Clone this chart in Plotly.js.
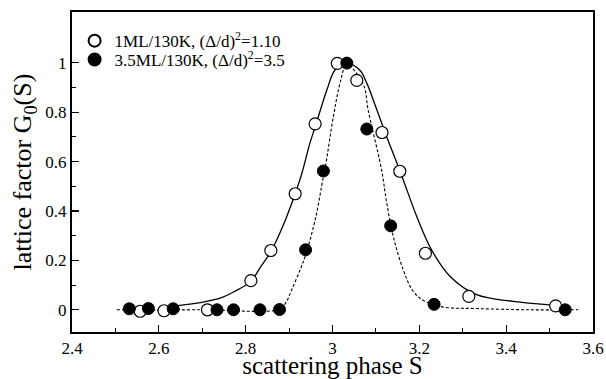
<!DOCTYPE html>
<html>
<head>
<meta charset="utf-8">
<script src="https://cdn.plot.ly/plotly-3.0.1.min.js"></script>
<style>html,body{margin:0;padding:0;background:#fff;}#chart{width:606px;height:379px;}</style>
</head>
<body>
<div id="chart"></div>
<script>
// Open circles: 1ML/130K
const openS = [2.557, 2.612, 2.712, 2.812, 2.858, 2.914, 2.960, 3.011, 3.056, 3.114, 3.155, 3.214, 3.314, 3.514];
const openG = [-0.006, -0.004, 0.0, 0.118, 0.240, 0.470, 0.753, 0.998, 0.929, 0.718, 0.561, 0.229, 0.054, 0.016];
// Filled circles: 3.5ML/130K
const fillS = [2.532, 2.576, 2.633, 2.734, 2.772, 2.833, 2.878, 2.938, 2.979, 3.033, 3.079, 3.134, 3.234, 3.536];
const fillG = [0.004, 0.005, 0.004, 0.0, 0.0, 0.0, 0.001, 0.243, 0.562, 0.999, 0.732, 0.340, 0.022, 0.0];
// Solid fit curve
const fitOpenS = [2.633, 2.68, 2.71, 2.741, 2.772, 2.812, 2.833, 2.858, 2.887, 2.914, 2.929, 2.948, 2.96, 2.987, 3.006, 3.031, 3.063, 3.079, 3.10, 3.125, 3.145, 3.163, 3.194, 3.228, 3.271, 3.332, 3.416, 3.50];
const fitOpenG = [0.015, 0.025, 0.034, 0.047, 0.072, 0.115, 0.17, 0.235, 0.344, 0.47, 0.55, 0.675, 0.74, 0.89, 0.972, 1.0, 0.97, 0.918, 0.82, 0.70, 0.61, 0.526, 0.378, 0.243, 0.135, 0.061, 0.034, 0.02];
// Dashed fit curve
const fitFillS = [2.503, 2.70, 2.879, 2.893, 2.906, 2.925, 2.937, 2.96, 2.979, 2.985, 3.002, 3.019, 3.033, 3.05, 3.073, 3.082, 3.113, 3.125, 3.14, 3.163, 3.186, 3.213, 3.255, 3.332, 3.45, 3.566];
const fitFillG = [0.0, 0.0, 0.003, 0.03, 0.081, 0.16, 0.216, 0.364, 0.54, 0.594, 0.783, 0.93, 1.0, 0.97, 0.904, 0.81, 0.567, 0.432, 0.297, 0.162, 0.074, 0.034, 0.011, 0.005, 0.0, 0.0];
// Labels
const legendOpen = "1ML/130K, (Δ/d)<sup>2</sup>=1.10";
const legendFill = "3.5ML/130K, (Δ/d)<sup>2</sup>=3.5";
const xTitle = "scattering phase S";
const yTitle = "lattice factor G<sub>0</sub>(S)";
const xTicks = [2.4, 2.6, 2.8, 3.0, 3.2, 3.4, 3.6];
const xTickText = ["2.4", "2.6", "2.8", "3", "3.2", "3.4", "3.6"];
const xMinor = [2.5, 2.7, 2.9, 3.1, 3.3, 3.5];
const yTicks = [0, 0.2, 0.4, 0.6, 0.8, 1.0];
const yTickText = ["0", "0.2", "0.4", "0.6", "0.8", "1"];
const yMinor = [0.1, 0.3, 0.5, 0.7, 0.9];

const FONT = 'Liberation Serif';
const X_RANGE = [2.4, 3.6];
const Y_RANGE = [-0.09, 1.206];

const traces = [
  {x: fitOpenS, y: fitOpenG, mode: 'lines', line: {color: '#000', width: 1.3, shape: 'spline'}, showlegend: false, hoverinfo: 'skip'},
  {x: fitFillS, y: fitFillG, mode: 'lines', line: {color: '#000', width: 1.1, dash: '3px,2px', shape: 'spline'}, showlegend: false, hoverinfo: 'skip'},
  {x: openS, y: openG, mode: 'markers', name: legendOpen, legend: 'legend',
   marker: {symbol: 'circle', size: 12, color: '#fff', line: {color: '#000', width: 1.2}}},
  {x: fillS, y: fillG, mode: 'markers', name: legendFill, legend: 'legend2',
   marker: {symbol: 'circle', size: 12, color: '#000', line: {color: '#000', width: 1}}}
];

const layout = {
  width: 606, height: 379,
  margin: {l: 72, r: 13, t: 12, b: 47},
  paper_bgcolor: '#fff', plot_bgcolor: '#fff',
  font: {family: FONT, color: '#000', size: 17},
  xaxis: {
    range: X_RANGE, showgrid: false, zeroline: false, showline: true, linecolor: '#000', linewidth: 2,
    mirror: true, ticks: 'inside', ticklen: 7, tickwidth: 1.2, tickcolor: '#000',
    tickmode: 'array', tickvals: xTicks, ticktext: xTickText,
    tickfont: {family: FONT, size: 17, color: '#000'},
    minor: {tickmode: 'array', tickvals: xMinor, ticks: 'inside', ticklen: 4, tickwidth: 1, tickcolor: '#000'},
    title: {text: xTitle, font: {family: FONT, size: 25, color: '#000'}, standoff: 4}
  },
  yaxis: {
    range: Y_RANGE, showgrid: false, zeroline: false, showline: true, linecolor: '#000', linewidth: 2,
    mirror: true, ticks: 'inside', ticklen: 7, tickwidth: 1.2, tickcolor: '#000',
    tickmode: 'array', tickvals: yTicks, ticktext: yTickText,
    tickfont: {family: FONT, size: 17, color: '#000'},
    minor: {tickmode: 'array', tickvals: yMinor, ticks: 'inside', ticklen: 4, tickwidth: 1, tickcolor: '#000'},
    title: {text: yTitle, font: {family: FONT, size: 26, color: '#000'}, standoff: 6}
  },
  legend: {x: 0.005, y: 0.909, xanchor: 'left', yanchor: 'middle', bgcolor: 'rgba(0,0,0,0)',
    font: {family: FONT, size: 17, color: '#000'}, itemsizing: 'constant'},
  legend2: {x: 0.005, y: 0.85, xanchor: 'left', yanchor: 'middle', bgcolor: 'rgba(0,0,0,0)',
    font: {family: FONT, size: 17, color: '#000'}, itemsizing: 'constant'},
  showlegend: true
};

Plotly.newPlot('chart', traces, layout, {displayModeBar: false, staticPlot: true});
</script>
</body>
</html>
